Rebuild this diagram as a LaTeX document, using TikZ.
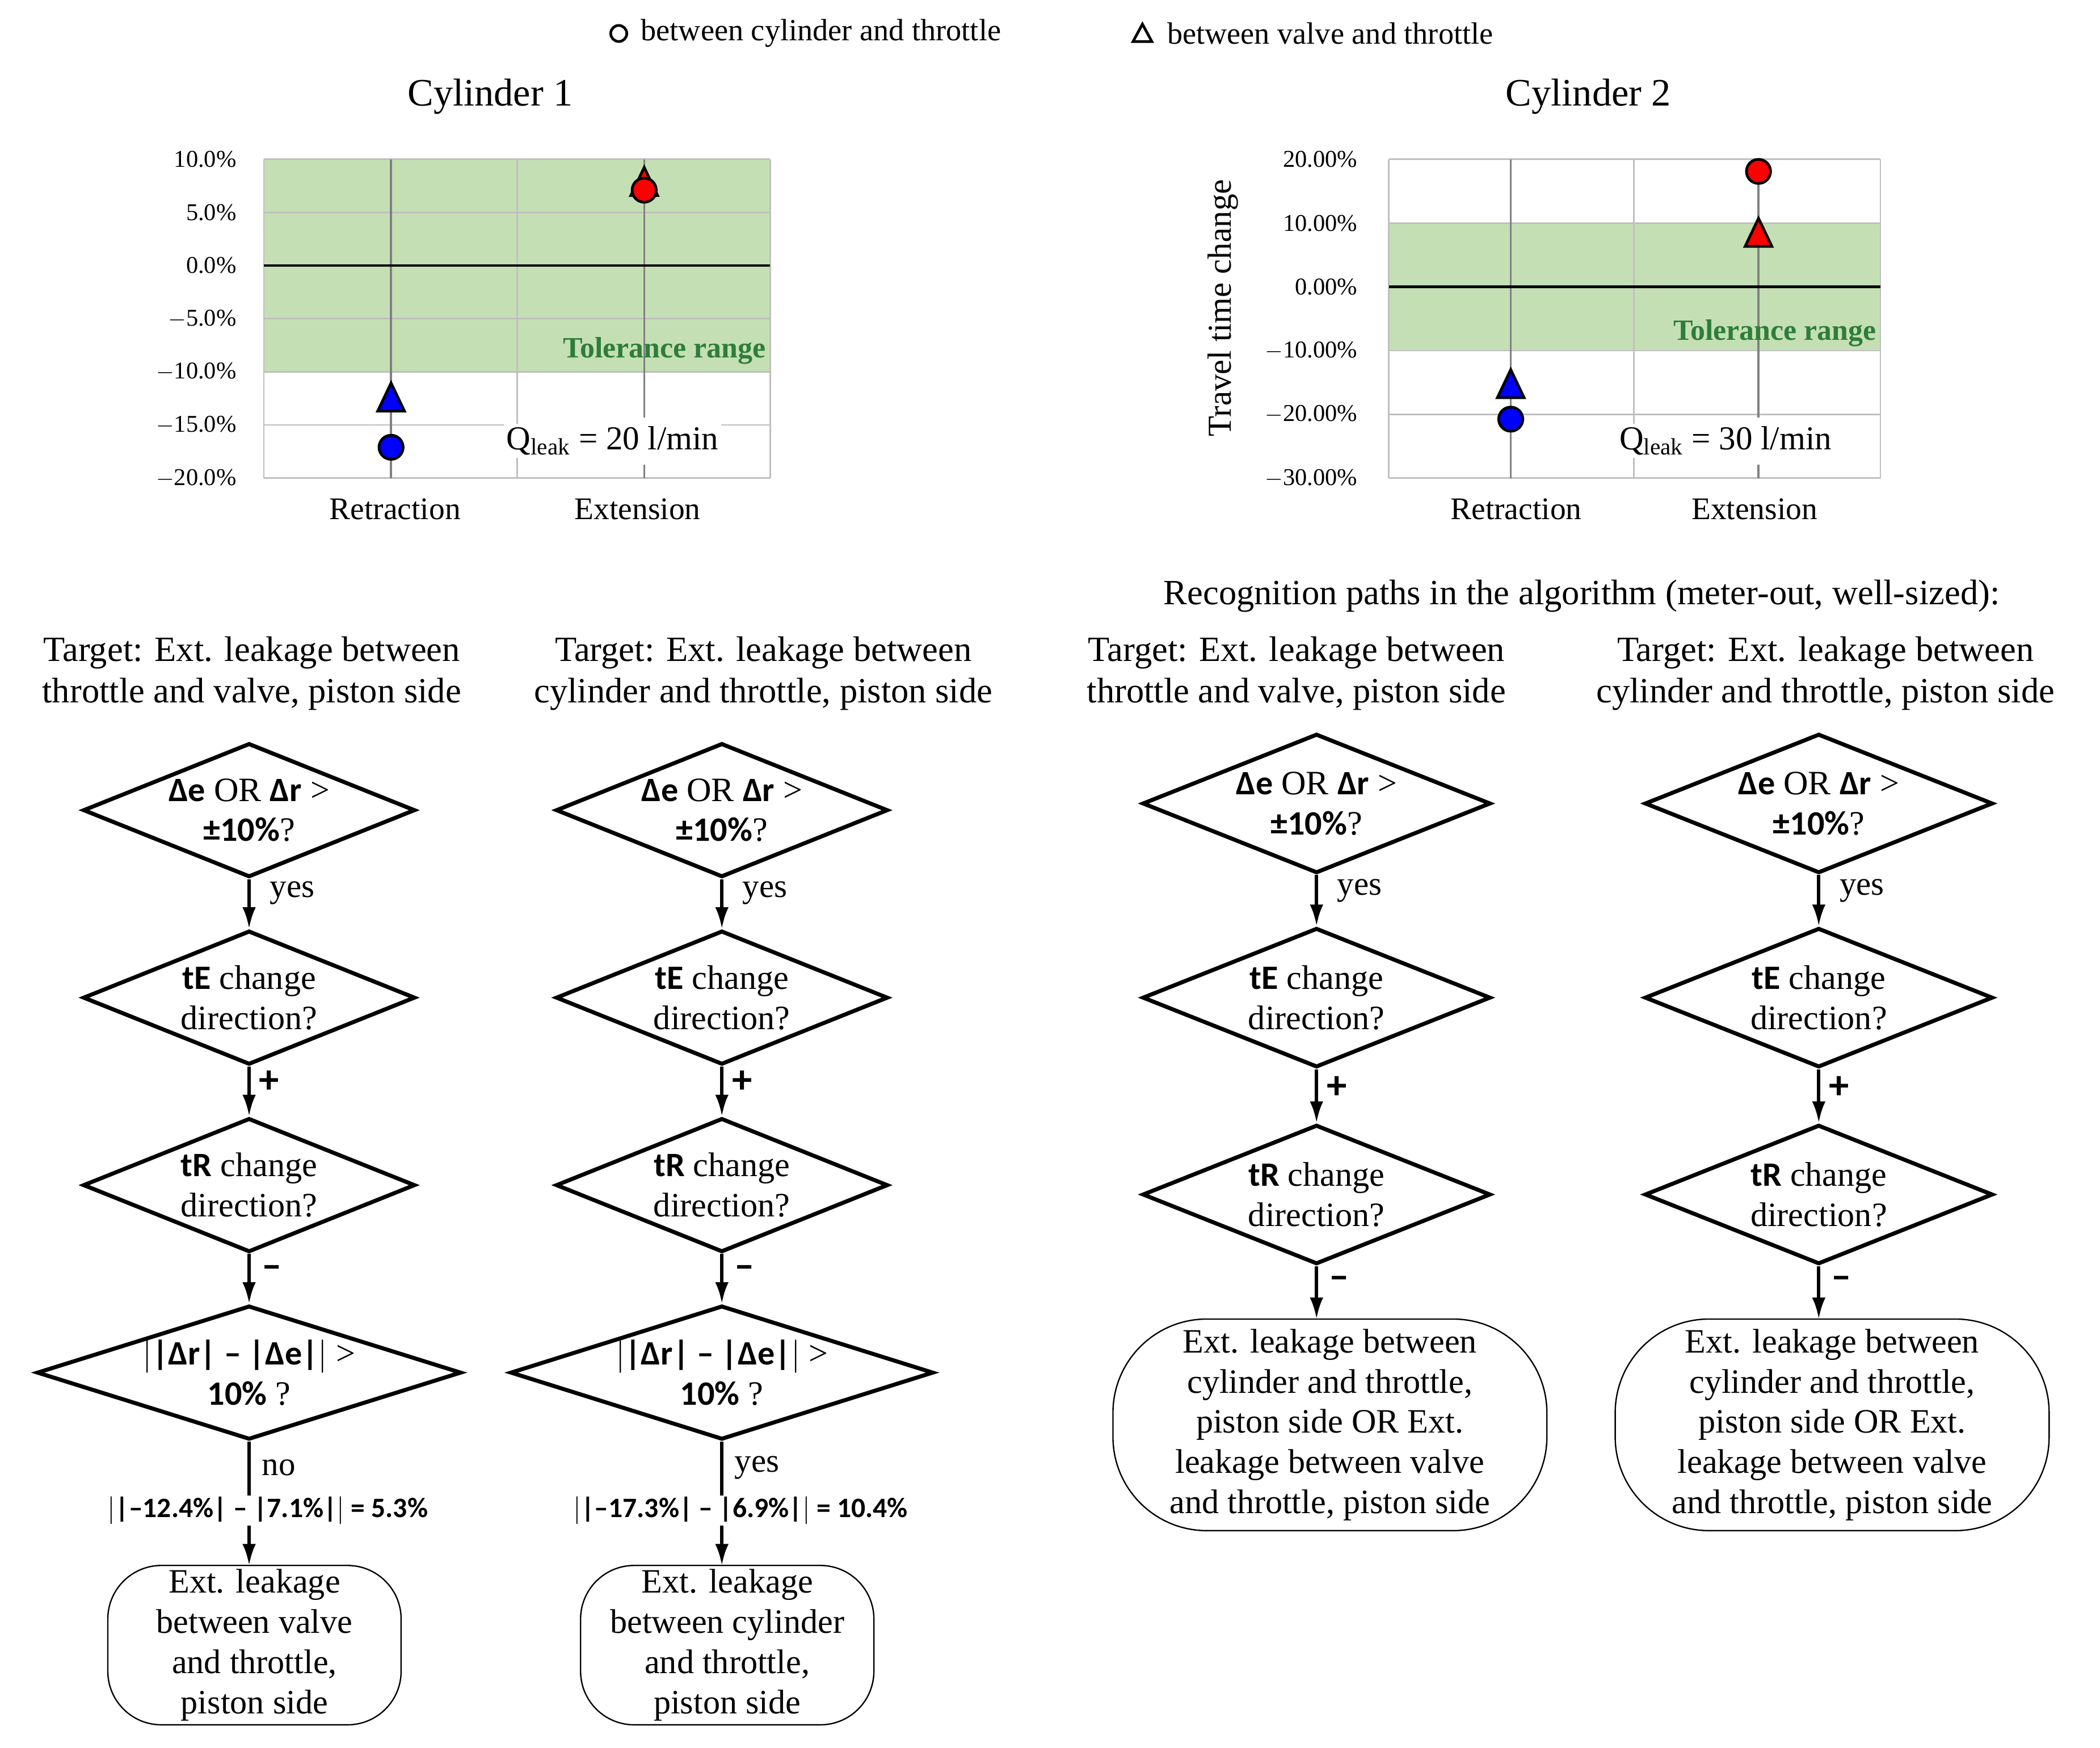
\documentclass[tikz,border=0pt]{standalone}
\usepackage{fontspec}
\setmainfont{Liberation Serif}
\newfontfamily\calfont{Carlito}
\usetikzlibrary{shapes.geometric,arrows.meta}
\definecolor{band}{HTML}{C5DFB4}
\definecolor{tol}{HTML}{2E7D3A}
\newcommand{\B}[1]{{\calfont\bfseries #1}}
\newcommand{\fs}[2]{\fontsize{#1}{#2}\selectfont}
\begin{document}
\begin{tikzpicture}[x=1pt,y=-1pt,
  dia/.style={draw,line width=3pt,shape=diamond,inner sep=0pt},
  dtext/.style={align=center,font=\fs{25.5}{30}},
  endb/.style={draw,line width=1pt,rounded corners=40pt,align=center,font=\fs{25.5}{30},inner sep=0pt},
  arr/.style={line width=2.5pt,-{Latex[length=16pt,width=10pt]}},
  lab/.style={font=\fs{25}{30},anchor=west},
  sym/.style={font=\fs{30}{30}\calfont\bfseries,anchor=west},
  ttl/.style={align=center,font=\fs{26.5}{31}},
  grid/.style={draw=black!25,line width=1.2pt},
  cat/.style={draw=black!50,line width=1.5pt},
  tick/.style={font=\fs{18}{20},anchor=east},
  mk/.style={draw=black,line width=2pt}]
\useasboundingbox (0,0) rectangle (1568,1305);
\fill[white] (0,0) rectangle (1568,1305);
% legend
\draw[line width=2pt] (462,25) circle (6);
\node[anchor=west,font=\fs{23}{26}] (lg1) at (475,25) {between cylinder and throttle};
\draw[line width=2pt] (846,31) -- (860,31) -- (853,18) -- cycle;
\node[anchor=west,font=\fs{23}{26}] (lg2) at (868,25) {between valve and throttle};
% ---- chart 1
\node[font=\fs{29}{32}] (t1) at (366,72) {Cylinder 1};
\fill[band] (197,119) rectangle (575,278);
\foreach \i/\l in {0/10.0\%,1/5.0\%,2/0.0\%,3/$-$5.0\%,4/$-$10.0\%,5/$-$15.0\%,6/$-$20.0\%}{
  \draw[grid] (197,119+39.67*\i) -- (575,119+39.67*\i);
  \node[tick] at (180,119+39.67*\i) {\l};}
\draw[grid] (197,119) -- (197,357); \draw[grid] (575,119) -- (575,357); \draw[grid] (386,119) -- (386,357);
\node[fill=white,inner sep=2pt,font=\fs{25}{28},anchor=west] (q1) at (376,329) {Q\textsubscript{leak} = 20 l/min};
\draw[cat] (292,119) -- (292,357); \draw[cat] (481,119) -- (481,312); \draw[cat] (481,347)--(481,357);
\draw[line width=2pt] (197,198.3) -- (575,198.3);
\node[font=\fs{22}{24}\bfseries,text=tol,anchor=south east,inner sep=1pt] at (573,273) {Tolerance range};
\node[font=\fs{23.5}{26}] at (295,380) {Retraction};
\node[font=\fs{23.5}{26}] at (476,380) {Extension};
\draw[mk,fill=red] (471,146) -- (491,146) -- (481,125) -- cycle;
\draw[mk,fill=red] (481,142) circle (9);
\draw[mk,fill=blue] (282,307) -- (302,307) -- (292,286) -- cycle;
\draw[mk,fill=blue] (292,334) circle (9);
% ---- chart 2
\node[font=\fs{29}{32}] (t2) at (1186,72) {Cylinder 2};
\fill[band] (1037,167) rectangle (1404,262);
\foreach \i/\l in {0/20.00\%,1/10.00\%,2/0.00\%,3/$-$10.00\%,4/$-$20.00\%,5/$-$30.00\%}{
  \draw[grid] (1037,119+47.6*\i) -- (1404,119+47.6*\i);
  \node[tick] at (1017,119+47.6*\i) {\l};}
\draw[grid] (1037,119) -- (1037,357); \draw[grid] (1404,119) -- (1404,357); \draw[grid] (1220,119) -- (1220,357);
\node[fill=white,inner sep=2pt,font=\fs{25}{28},anchor=west] (q2) at (1207,329) {Q\textsubscript{leak} = 30 l/min};
\draw[cat] (1128,119) -- (1128,357); \draw[cat] (1313,119) -- (1313,312); \draw[cat] (1313,347)--(1313,357);
\draw[line width=2pt] (1037,214.2) -- (1404,214.2);
\node[font=\fs{22}{24}\bfseries,text=tol,anchor=south east,inner sep=1pt] at (1402,260) {Tolerance range};
\node[font=\fs{25}{26},rotate=90] (yl) at (913,230) {Travel time change};
\node[font=\fs{23.5}{26}] at (1132,380) {Retraction};
\node[font=\fs{23.5}{26}] at (1310,380) {Extension};
\draw[mk,fill=blue] (1118,297) -- (1138,297) -- (1128,276) -- cycle;
\draw[mk,fill=blue] (1128,313) circle (9);
\draw[mk,fill=red] (1303,184) -- (1323,184) -- (1313,163) -- cycle;
\draw[mk,fill=red] (1313,128) circle (9);
% ---- flowcharts
\node[ttl] (rec) at (1181,445) {Recognition paths in the algorithm (meter-out, well-sized):};
\node[ttl] (h1) at (188,503) {Target: Ext. leakage between\\throttle and valve, piston side};
\node[ttl] (h2) at (570,503) {Target: Ext. leakage between\\cylinder and throttle, piston side};
\node[ttl] (h3) at (968,503) {Target: Ext. leakage between\\throttle and valve, piston side};
\node[ttl] (h4) at (1363,503) {Target: Ext. leakage between\\cylinder and throttle, piston side};
% columns 1,2
\foreach \c/\x/\wx/\res/\yn/\calc in {a/186/317/{Ext. leakage\\between valve\\and throttle,\\piston side}/no/{$\Big|$|\textendash12.4\%| \textendash\ |7.1\%|$\Big|$ = 5.3\%},
                        b/539/316/{Ext. leakage\\between cylinder\\and throttle,\\piston side}/yes/{$\Big|$|\textendash17.3\%| \textendash\ |6.9\%|$\Big|$ = 10.4\%}}{
  \node[dia,minimum width=248pt,minimum height=100pt] (\c1) at (\x,605) {};
  \node[dtext] at (\c1) {\B{Δe} OR \B{Δr} >\\\B{±10\%}?};
  \node[dia,minimum width=248pt,minimum height=100pt] (\c2) at (\x,745) {};
  \node[dtext] at (\c2) {\B{tE} change\\direction?};
  \node[dia,minimum width=248pt,minimum height=100pt] (\c3) at (\x,885) {};
  \node[dtext] at (\c3) {\B{tR} change\\direction?};
  \node[dia,minimum width=\wx pt,minimum height=100pt] (\c4) at (\x,1025) {};
  \node[dtext] at (\c4) {\B{$\Big|$|Δr| \textendash\ |Δe|$\Big|$} >\\\B{10\%} ?};
  \node[endb,minimum width=219pt,minimum height=119pt] (\c5) at (\x+4,1228.5) {\res};
  \draw[arr] (\c1.south) -- (\c2.north);
  \draw[arr] (\c2.south) -- (\c3.north);
  \draw[arr] (\c3.south) -- (\c4.north);
  \draw[arr] (\c4.south) -- (\x,1169);
  \node[lab] at (\x+12,667) {yes};
  \node[sym] at (\x+4,808) {+};
  \node[sym] at (\x+6,950) {\textendash};
  \node[lab] at (\x+6,1096) {\yn};
  \node[font=\fs{21}{22}\calfont\bfseries,fill=white,inner sep=1pt] at (\x+14,1128) {\calc};
}
% columns 3,4
\foreach \c/\x in {c/983,d/1358}{
  \node[dia,minimum width=260pt,minimum height=104pt] (\c1) at (\x,600) {};
  \node[dtext] at (\c1) {\B{Δe} OR \B{Δr} >\\\B{±10\%}?};
  \node[dia,minimum width=260pt,minimum height=104pt] (\c2) at (\x,745) {};
  \node[dtext] at (\c2) {\B{tE} change\\direction?};
  \node[dia,minimum width=260pt,minimum height=104pt] (\c3) at (\x,892) {};
  \node[dtext] at (\c3) {\B{tR} change\\direction?};
  \node[endb,minimum width=324pt,minimum height=158pt,rounded corners=70pt] (\c5) at (\x+10,1064) {Ext. leakage between\\cylinder and throttle,\\piston side OR Ext.\\leakage between valve\\and throttle, piston side};
  \draw[arr] (\c1.south) -- (\c2.north);
  \draw[arr] (\c2.south) -- (\c3.north);
  \draw[arr] (\c3.south) -- (\x,985);
  \node[lab] at (\x+12,665) {yes};
  \node[sym] at (\x+4,812) {+};
  \node[sym] at (\x+6,958) {\textendash};
}
\end{tikzpicture}
\end{document}
